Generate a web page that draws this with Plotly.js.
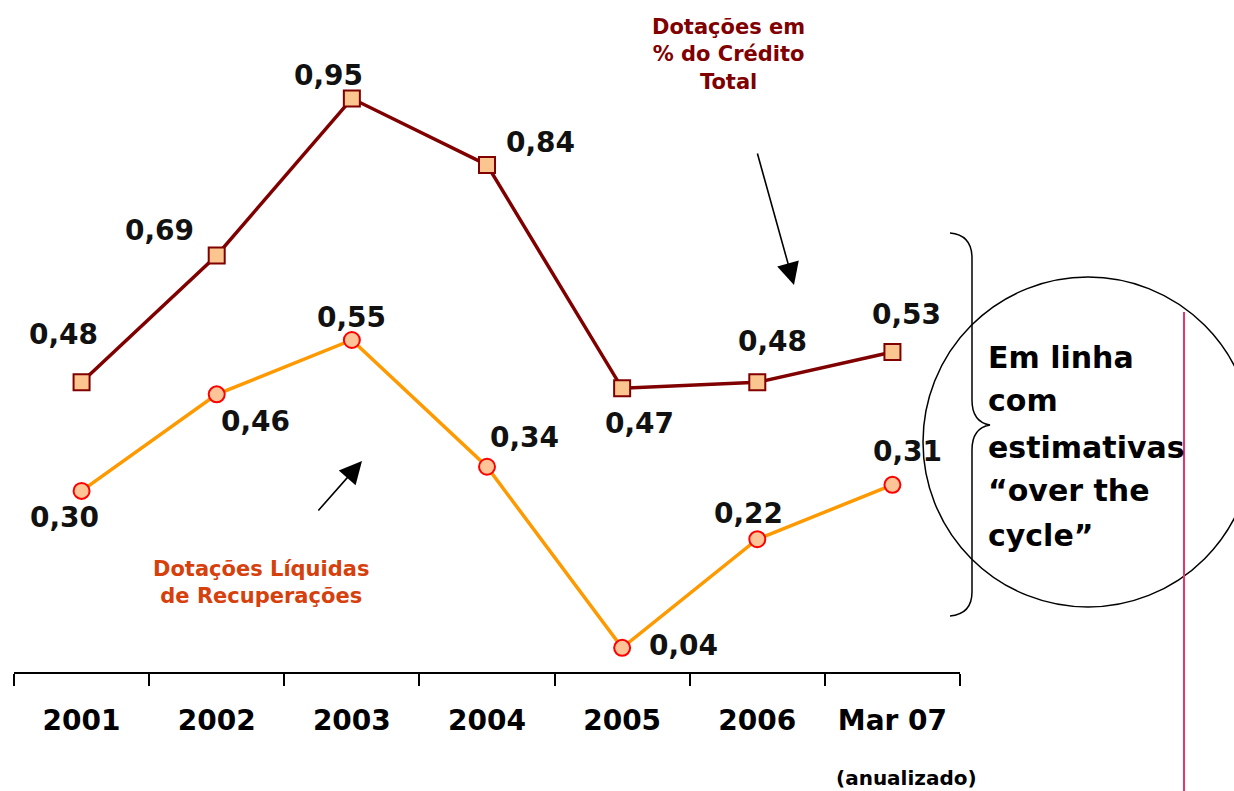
<!DOCTYPE html>
<html><head><meta charset="utf-8">
<script src="https://cdn.plot.ly/plotly-3.0.1.min.js"></script>
<style>html,body{margin:0;padding:0;background:#fff;}#chart{width:1234px;height:791px;}</style>
</head><body><div id="chart"></div>
<script>
const categories = ['2001','2002','2003','2004','2005','2006','Mar 07'];
const dotacoesTotal = [0.48, 0.69, 0.95, 0.84, 0.47, 0.48, 0.53];
const dotacoesLiquidas = [0.30, 0.46, 0.55, 0.34, 0.04, 0.22, 0.31];
const fmt = v => v.toFixed(2).replace('.', ',');

// label placement offsets (pixels): [dx, dy]
const offTotal = [[-18,-48],[-57,-25],[-23,-23],[53,-22],[17,35],[15,-41],[14,-38]];
const offLiq = [[-17,27],[39,27],[0,-23],[37,-29],[61,-2],[-9,-26],[15,-33]];

const W = 1234, H = 791, L = 14, R = 960, T = 8, B = 672;
const px = X => (X - L) / (R - L);
const py = Y => (B - Y) / (B - T);

const traces = [
  {x: categories, y: dotacoesTotal, type: 'scatter', mode: 'lines+markers',
   line: {color: '#800000', width: 3.5},
   marker: {symbol: 'square', size: 16, color: '#fbc58f', line: {color: '#800000', width: 2}},
   hoverinfo: 'skip'},
  {x: categories, y: dotacoesLiquidas, type: 'scatter', mode: 'lines+markers',
   line: {color: '#ff9900', width: 3.5},
   marker: {symbol: 'circle', size: 16, color: '#fdc497', line: {color: '#ff0000', width: 2}},
   hoverinfo: 'skip'}
];

const labelFont = {family: 'DejaVu Sans', size: 28, color: '#111111', weight: 'bold'};
const ann = [];
categories.forEach((c, i) => {
  ann.push({x: i, y: dotacoesTotal[i], xref: 'x', yref: 'y', text: '<b>' + fmt(dotacoesTotal[i]) + '</b>',
    showarrow: false, xshift: offTotal[i][0], yshift: -offTotal[i][1], font: labelFont, xanchor: 'center', yanchor: 'middle'});
  ann.push({x: i, y: dotacoesLiquidas[i], xref: 'x', yref: 'y', text: '<b>' + fmt(dotacoesLiquidas[i]) + '</b>',
    showarrow: false, xshift: offLiq[i][0], yshift: -offLiq[i][1], font: labelFont, xanchor: 'center', yanchor: 'middle'});
});

ann.push({x: px(728), y: py(55), xref: 'paper', yref: 'paper', showarrow: false,
  text: '<b>Dotações em<br>% do Crédito<br>Total</b>', align: 'center',
  font: {family: 'DejaVu Sans', size: 21, color: '#800000'}, xanchor: 'center', yanchor: 'middle'});
ann.push({x: px(261), y: py(582), xref: 'paper', yref: 'paper', showarrow: false,
  text: '<b>Dotações Líquidas<br>de Recuperações</b>', align: 'center',
  font: {family: 'DejaVu Sans', size: 21, color: '#d6400c'}, xanchor: 'center', yanchor: 'middle'});

const rightLines = ['Em linha', 'com', 'estimativas', '“over the', 'cycle”'];
const rightY = [357, 400, 447, 491, 535];
rightLines.forEach((t, i) => ann.push({x: px(986), y: py(rightY[i]), xref: 'paper', yref: 'paper', showarrow: false,
  text: '<b>' + t + '</b>', align: 'left', font: {family: 'DejaVu Sans', size: 30, color: '#000'}, xanchor: 'left', yanchor: 'middle'}));

ann.push({x: px(906), y: py(778), xref: 'paper', yref: 'paper', showarrow: false,
  text: '<b>(anualizado)</b>', font: {family: 'DejaVu Sans', size: 20, color: '#000'}, xanchor: 'center', yanchor: 'middle'});

// arrows
ann.push({x: px(794), y: py(285), xref: 'paper', yref: 'paper', text: '', showarrow: true,
  ax: -37, ay: -133, arrowhead: 2, arrowsize: 2.8, arrowwidth: 1.6, arrowcolor: '#000', standoff: 0});
ann.push({x: px(362), y: py(461), xref: 'paper', yref: 'paper', text: '', showarrow: true,
  ax: -45, ay: 51, arrowhead: 2, arrowsize: 2.8, arrowwidth: 1.6, arrowcolor: '#000', standoff: 0});

const P = (X, Y) => px(X).toFixed(5) + ',' + py(Y).toFixed(5);
const bracePath = 'M' + P(950,233) + ' Q' + P(972,235) + ' ' + P(972,258) + ' L' + P(972,400) +
  ' Q' + P(972,422) + ' ' + P(990,425) + ' Q' + P(972,428) + ' ' + P(972,450) + ' L' + P(972,592) +
  ' Q' + P(972,614) + ' ' + P(950,616);

const shapes = [
  {type: 'path', xref: 'paper', yref: 'paper', path: bracePath, line: {color: '#000', width: 1.5}},
  {type: 'circle', xref: 'paper', yref: 'paper', x0: px(923), x1: px(1253), y0: py(607), y1: py(277), line: {color: '#000', width: 1.5}},
  {type: 'line', xref: 'paper', yref: 'paper', x0: px(1184), x1: px(1184), y0: py(312), y1: py(791), line: {color: '#e8336b', width: 2}}
];

const layout = {
  width: W, height: H, margin: {l: L, r: W - R, t: T, b: H - B},
  paper_bgcolor: '#fff', plot_bgcolor: '#fff', showlegend: false,
  xaxis: {type: 'category', range: [-0.5, 6.5], showline: true, linecolor: '#000', linewidth: 2,
    ticks: 'outside', ticklen: 12, tickwidth: 2, tickcolor: '#000', tickson: 'boundaries',
    showgrid: false, zeroline: false, ticklabelstandoff: 22,
    tickfont: {family: 'DejaVu Sans', size: 28, color: '#000', weight: 'bold'}, fixedrange: true},
  yaxis: {range: [0, 1.1], visible: false, fixedrange: true},
  annotations: ann, shapes: shapes
};
Plotly.newPlot('chart', traces, layout, {displayModeBar: false, staticPlot: true});
</script></body></html>
